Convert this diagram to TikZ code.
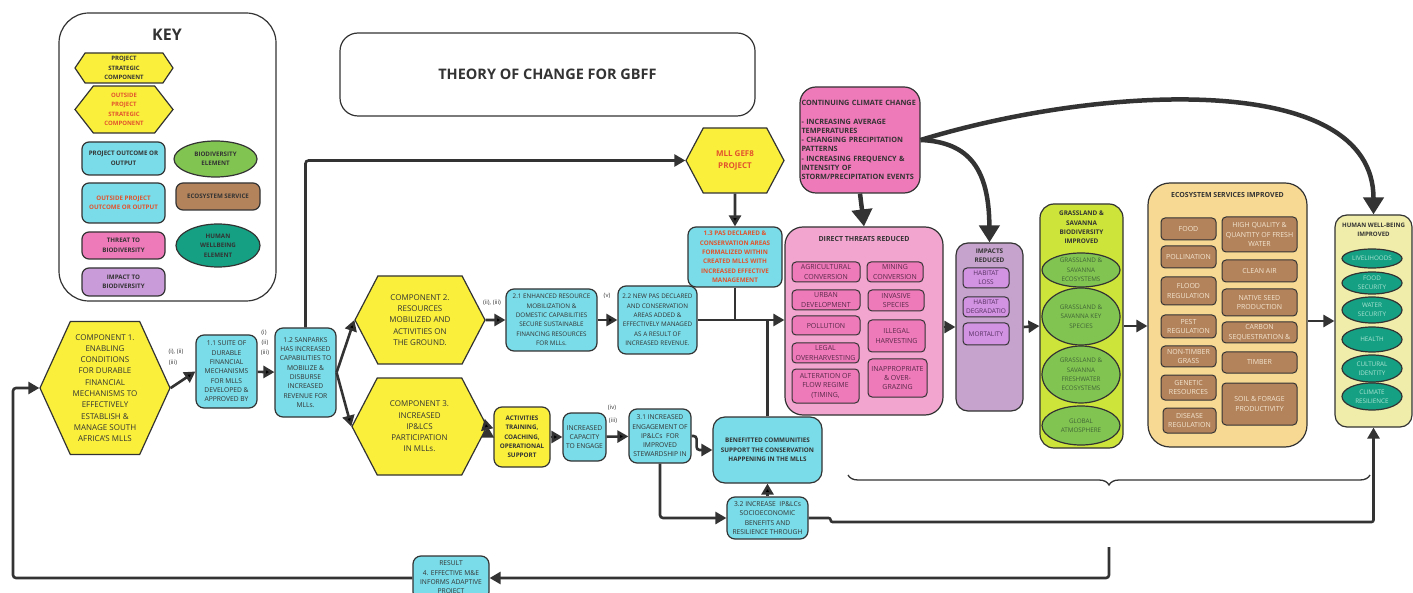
\documentclass[tikz,border=0pt]{standalone}
\usepackage{fontspec}
\setmainfont{Open Sans}
\usetikzlibrary{arrows.meta,shapes.geometric,shapes.symbols,decorations.pathreplacing}
\definecolor{ink}{HTML}{333333}
\definecolor{yel}{HTML}{FAF03C}
\definecolor{cya}{HTML}{7ADCE8}
\definecolor{org}{HTML}{E2532D}
\definecolor{pnk}{HTML}{EE7AB9}
\definecolor{pnkl}{HTML}{F1A5CF}
\definecolor{pur}{HTML}{C6A3CC}
\definecolor{purd}{HTML}{D393E3}
\definecolor{purk}{HTML}{C99BD9}
\definecolor{lim}{HTML}{CDE43A}
\definecolor{grn}{HTML}{82C452}
\definecolor{sand}{HTML}{F7D993}
\definecolor{brn}{HTML}{B3835C}
\definecolor{crm}{HTML}{F0EDAA}
\definecolor{tea}{HTML}{16A083}
\definecolor{thrtx}{HTML}{5A2A4A}
\definecolor{imptx}{HTML}{553060}
\definecolor{svctx}{HTML}{F4E6D0}
\definecolor{biotx}{HTML}{3F6435}
\definecolor{hwetx}{HTML}{A9E3D2}
\newcommand\fsz[2]{\fontsize{#1}{#2}\selectfont}

\begin{document}
\begin{tikzpicture}[x=1pt,y=-1pt,>={Triangle[length=11pt,width=12pt]},
  sz/.style 2 args={minimum width=#1,minimum height=#2},
  base/.style={draw=ink,line width=1.2pt,align=center,inner sep=1pt,text=ink},
  hexa/.style={base,signal,signal to=east and west,fill=yel,font=\fsz{8}{11.3}},
  keyhex/.style={hexa,font=\bfseries\fsz{6}{9.5}},
  outc/.style={base,rounded corners=8pt,fill=cya,font=\fsz{6.7}{9.3}},
  keybox/.style={base,rounded corners=7pt,font=\bfseries\fsz{6.2}{9.5}},
  group/.style={base,rounded corners=18pt},
  gtitle/.style={align=center,inner sep=0pt,text=ink,font=\bfseries\fsz{7}{9.3}},
  thr/.style={base,line width=1pt,rounded corners=4pt,inner sep=0pt,fill=pnk,text=thrtx,font=\fsz{7}{9.3}},
  imi/.style={thr,fill=purd,text=imptx,font=\fsz{6.5}{9.3}},
  svc/.style={thr,fill=brn,text=svctx},
  bio/.style={base,ellipse,inner sep=0pt,fill=grn,text=biotx,font=\fsz{6.3}{9.3}},
  hwe/.style={bio,fill=tea,text=hwetx,font=\fsz{6.3}{9}},
  tag/.style={inner sep=0pt,text=ink,font=\fsz{6}{8}},
  link/.style={draw=ink,line width=2.6pt,->,rounded corners=3pt},
  heavy/.style={draw=ink,line width=4.5pt,-{Triangle[length=17pt,width=20pt]}}]

  \path[use as bounding box,fill=white] (0,0) rectangle (1413,593);

  \node[group,fill=white,rounded corners=30pt,sz={217}{288}] (key) at (167.5,157) {};
  \node[gtitle,font=\bfseries\fsz{16}{18}] (keyT) at (167,35) {KEY};
  \node[keyhex,signal pointer angle=112,sz={98}{30}] (k1) at (124,68) {PROJECT\\STRATEGIC\\COMPONENT};
  \node[keyhex,signal pointer angle=104,text=org,sz={98}{47}] (k2) at (124,109.5) {OUTSIDE\\PROJECT\\STRATEGIC\\COMPONENT};
  \node[keybox,fill=cya,sz={83}{33}] (k3) at (123.5,158.5) {PROJECT OUTCOME OR\\OUTPUT};
  \node[keybox,ellipse,fill=grn,sz={83}{36}] (k4) at (215.5,159) {BIODIVERSITY\\ELEMENT};
  \node[keybox,fill=cya,text=org,sz={83}{40}] (k5) at (123.5,203) {OUTSIDE PROJECT\\OUTCOME OR OUTPUT};
  \node[keybox,fill=brn,sz={84}{27}] (k6) at (218,196.5) {ECOSYSTEM SERVICE};
  \node[keybox,fill=pnk,sz={83}{27}] (k7) at (123.5,245.5) {THREAT TO\\BIODIVERSITY};
  \node[keybox,ellipse,fill=tea,sz={84}{43}] (k8) at (218,245.5) {HUMAN\\WELLBEING\\ELEMENT};
  \node[keybox,fill=purk,sz={83}{28}] (k9) at (123.5,282) {IMPACT TO\\BIODIVERSITY};

  \node[base,rounded corners=18pt,sz={415}{83},font=\bfseries\fsz{14.5}{17}] (title) at (547.5,74.5) {THEORY OF CHANGE FOR GBFF};

  \node[hexa,signal pointer angle=131,sz={130}{133}] (c1) at (105,388) {COMPONENT 1.\\ENABLING\\CONDITIONS\\FOR DURABLE\\FINANCIAL\\MECHANISMS TO\\EFFECTIVELY\\ESTABLISH \&\\MANAGE SOUTH\\AFRICA'S MLLS};
  \node[outc,sz={61}{73}] (o11) at (226.5,371.5) {1.1 SUITE OF\\DURABLE\\FINANCIAL\\MECHANISMS\\FOR MLLS\\DEVELOPED \&\\APPROVED BY};
  \node[outc,sz={61}{89}] (o12) at (305.5,372.5) {1.2 SANPARKS\\HAS INCREASED\\CAPABILITIES TO\\MOBILIZE \&\\DISBURSE\\INCREASED\\REVENUE FOR\\MLLs.};
  \node[hexa,signal pointer angle=125,sz={130}{88}] (c2) at (420,320) {COMPONENT 2.\\RESOURCES\\MOBILIZED AND\\ACTIVITIES ON\\THE GROUND.};
  \node[hexa,signal pointer angle=125,sz={135}{97}] (c3) at (419.5,426.5) {COMPONENT 3.\\INCREASED\\IP\&LCS\\PARTICIPATION\\IN MLLs.};
  \node[outc,font=\fsz{6.3}{9.3},sz={91}{62}] (o21) at (551.5,320) {2.1 ENHANCED RESOURCE\\MOBILIZATION \&\\DOMESTIC CAPABILITIES\\SECURE SUSTAINABLE\\FINANCING RESOURCES\\FOR MLLs.};
  \node[outc,font=\fsz{6.3}{9.3},sz={79}{68}] (o22) at (657.5,320) {2.2 NEW PAS DECLARED\\AND CONSERVATION\\AREAS ADDED \&\\EFFECTIVELY MANAGED\\AS A RESULT OF\\INCREASED REVENUE.};
  \node[hexa,signal pointer angle=124,text=org,font=\bfseries\fsz{8}{11.3},sz={98}{65}] (mll) at (735,160.5) {MLL GEF8\\PROJECT};
  \node[outc,text=org,font=\bfseries\fsz{6.3}{9.3},sz={94}{60}] (o13) at (735,257) {1.3 PAS DECLARED \&\\CONSERVATION AREAS\\FORMALIZED WITHIN\\CREATED MLLS WITH\\INCREASED EFFECTIVE\\MANAGEMENT};
  \node[outc,fill=yel,font=\bfseries\fsz{6.3}{9.3},sz={56}{60}] (act) at (522,437) {ACTIVITIES\\TRAINING,\\COACHING,\\OPERATIONAL\\SUPPORT};
  \node[outc,sz={43}{48}] (cap) at (584.5,437) {INCREASED\\CAPACITY\\TO ENGAGE};
  \node[outc,sz={62}{54}] (o31) at (660,436) {3.1 INCREASED\\ENGAGEMENT OF\\IP\&LCs\ \ FOR\\IMPROVED\\STEWARDSHIP IN};
  \node[outc,rounded corners=12pt,font=\bfseries\fsz{6.3}{9.3},sz={109}{66}] (ben) at (767.5,450) {BENEFITTED COMMUNITIES\\SUPPORT THE CONSERVATION\\HAPPENING IN THE MLLS};
  \node[outc,sz={81}{42}] (o32) at (767.5,518) {3.2 INCREASE\ \ IP\&LCs\\SOCIOECONOMIC\\BENEFITS AND\\RESILIENCE THROUGH};
  \node[outc,sz={76}{44}] (res) at (451,578) {RESULT\\4. EFFECTIVE M\&E\\INFORMS ADAPTIVE\\PROJECT};

  \node[base,rounded corners=16pt,fill=pnk,align=left,text width=117,font=\bfseries\fsz{7.3}{9.3},sz={120}{106}] (cc) at (860,140) {CONTINUING CLIMATE CHANGE\\[9.3pt]- INCREASING AVERAGE\\TEMPERATURES\\- CHANGING PRECIPITATION\\PATTERNS\\- INCREASING FREQUENCY \&\\INTENSITY OF\\STORM/PRECIPITATION EVENTS};

  \node[group,fill=pnkl,sz={158}{188}] (dt) at (864,321) {};
  \node[gtitle] (dtT) at (864,239) {DIRECT THREATS REDUCED};
  \node[thr,sz={68}{20}] (a1) at (826,272) {AGRICULTURAL\\CONVERSION};
  \node[thr,sz={56}{20}] (a2) at (895,272) {MINING\\CONVERSION};
  \node[thr,sz={68}{20}] (a3) at (826,300) {URBAN\\DEVELOPMENT};
  \node[thr,sz={56}{21}] (a4) at (896,300.5) {INVASIVE\\SPECIES};
  \node[thr,sz={68}{19}] (a5) at (826,325.5) {POLLUTION};
  \node[thr,sz={57}{32}] (a6) at (896.5,336) {ILLEGAL\\HARVESTING};
  \node[thr,sz={67}{20}] (a7) at (825.5,353) {LEGAL\\OVERHARVESTING};
  \node[thr,sz={67}{34}] (a8) at (825.5,386) {ALTERATION OF\\FLOW REGIME\\(TIMING,};
  \node[thr,sz={59}{38}] (a9) at (897.5,378) {INAPPROPRIATE\\\& OVER-\\GRAZING};

  \node[group,fill=pur,rounded corners=12pt,sz={67}{168}] (imp) at (989.5,327) {};
  \node[gtitle,font=\bfseries\fsz{6.4}{9.3}] (impT) at (989.5,255.5) {IMPACTS\\REDUCED};
  \node[imi,sz={46}{20}] (i1) at (986,278) {HABITAT\\LOSS};
  \node[imi,sz={46}{20}] (i2) at (986,307) {HABITAT\\DEGRADATIO};
  \node[imi,sz={46}{22}] (i3) at (986,334) {MORTALITY};

  \node[group,fill=lim,rounded corners=14pt,sz={83}{244}] (gs) at (1081.5,326) {};
  \node[gtitle,font=\bfseries\fsz{6.4}{9.3}] (gsT) at (1081.5,227.5) {GRASSLAND \&\\SAVANNA\\BIODIVERSITY\\IMPROVED};
  \node[bio,sz={78}{34}] (e1) at (1081,270) {GRASSLAND \&\\SAVANNA\\ECOSYSTEMS};
  \node[bio,sz={78}{57}] (e2) at (1081,316.5) {GRASSLAND \&\\SAVANNA KEY\\SPECIES};
  \node[bio,sz={78}{57}] (e3) at (1081,374.5) {GRASSLAND \&\\SAVANNA\\FRESHWATER\\ECOSYSTEMS};
  \node[bio,sz={78}{39}] (e4) at (1081,425.5) {GLOBAL\\ATMOSPHERE};

  \node[group,fill=sand,rounded corners=22pt,sz={159}{264}] (es) at (1227.5,315) {};
  \node[gtitle] (esT) at (1227.5,195) {ECOSYSTEM SERVICES IMPROVED};
  \node[svc,sz={55}{22}] (f1) at (1188.5,229) {FOOD};
  \node[svc,sz={55}{22}] (f2) at (1188.5,257) {POLLINATION};
  \node[svc,sz={55}{28}] (f3) at (1188.5,291) {FLOOD\\REGULATION};
  \node[svc,sz={55}{23}] (f4) at (1188.5,326.5) {PEST\\REGULATION};
  \node[svc,sz={55}{21}] (f5) at (1188.5,356.5) {NON-TIMBER\\GRASS};
  \node[svc,sz={55}{25}] (f6) at (1188.5,387.5) {GENETIC\\RESOURCES};
  \node[svc,sz={53}{25}] (f7) at (1189.5,420.5) {DISEASE\\REGULATION};
  \node[svc,sz={75}{35}] (g1) at (1259.5,234.5) {HIGH QUALITY \&\\QUANTITY OF FRESH\\WATER};
  \node[svc,sz={75}{22}] (g2) at (1259.5,271) {CLEAN AIR};
  \node[svc,sz={75}{27}] (g3) at (1259.5,302.5) {NATIVE SEED\\PRODUCTION};
  \node[svc,sz={75}{21}] (g4) at (1259.5,332.5) {CARBON\\SEQUESTRATION \&};
  \node[svc,sz={75}{21}] (g5) at (1259.5,362.5) {TIMBER};
  \node[svc,sz={75}{42}] (g6) at (1259.5,404) {SOIL \& FORAGE\\PRODUCTIVITY};

  \node[group,fill=crm,rounded corners=12pt,sz={77}{212}] (hw) at (1373.5,321) {};
  \node[gtitle,font=\bfseries\fsz{6.1}{9.3}] (hwT) at (1373.5,229.5) {HUMAN WELL-BEING\\IMPROVED};
  \node[hwe,sz={60}{19}] (h1) at (1372,258.5) {LIVELIHOODS};
  \node[hwe,sz={60}{22}] (h2) at (1372,283) {FOOD\\SECURITY};
  \node[hwe,sz={60}{26}] (h3) at (1372,310) {WATER\\SECURITY};
  \node[hwe,sz={60}{25}] (h4) at (1372,339.5) {HEALTH};
  \node[hwe,sz={60}{27}] (h5) at (1372,368.5) {CULTURAL\\IDENTITY};
  \node[hwe,sz={60}{27}] (h6) at (1372,396.5) {CLIMATE\\RESILIENCE};

  \node[tag] (t1) at (176,352) {(i), (ii)};
  \node[tag] (t2) at (173,363) {(iii)};
  \node[tag] (t3) at (264,333) {(i)};
  \node[tag] (t4) at (265,343) {(ii)};
  \node[tag] (t5) at (265,353) {(iii)};
  \node[tag] (t6) at (492,303) {(ii), (iii)};
  \node[tag] (t7) at (607,296) {(v)};
  \node[tag] (t8) at (612,408) {(iv)};
  \node[tag] (t9) at (613,421) {(iii)};

  \coordinate (bt) at (1109,547);
  \coordinate (lp) at (13,578);

  \path[link]
    (c1.east) edge (o11.west)
    (o11) edge (o12)
    (o12.east) edge (c2.west)
    (o12.east) edge (c3.west)
    (c2) edge (o21)
    (o21) edge (o22)
    (mll) edge (o13)
    (c3.east) edge (act)
    (act) edge (cap)
    (cap) edge (o31)
    (o32) edge (ben);
  \draw[link] (o12.north) |- (mll.west);
  \draw[link] (o31.east) -- ++(5,0) |- (ben.west);
  \draw[link] (o31.south) |- (o32.west);
  \draw[link,-] (o13.south) -- (o13.south |- o22.east);
  \draw[link,-] (ben.north) -- (ben.north |- o22.east);
  \draw[link] (o22.east) -- (o22.east -| dt.west);
  \draw[link] (dt.east |- imp.west) -- (imp.west);
  \draw[link] (imp.east) -- (gs.west);
  \draw[link] (gs.east) -- (gs.east -| es.west);
  \draw[link] (es.east |- hw.west) -- (hw.west);
  \draw[link,rounded corners=2pt] (o32.east) -- ++(22,0) -- ++(0,4) -| (hw.south);
  \draw[heavy] (cc.south) -- (dt.north);
  \draw[heavy] (cc.east) .. controls (970,142) and (989,170) .. (imp.north);
  \draw[heavy] (cc.east) .. controls (1100,85) and (1373.5,70) .. (hw.north);
  \draw[ink,line width=1.3pt,decorate,decoration={brace,mirror,amplitude=10pt}] (848,475) -- (1370,475);
  \draw[link] (bt) |- (res.east);
  \draw[link] (res.west) -- (lp) |- (c1.west);
\end{tikzpicture}
\end{document}
